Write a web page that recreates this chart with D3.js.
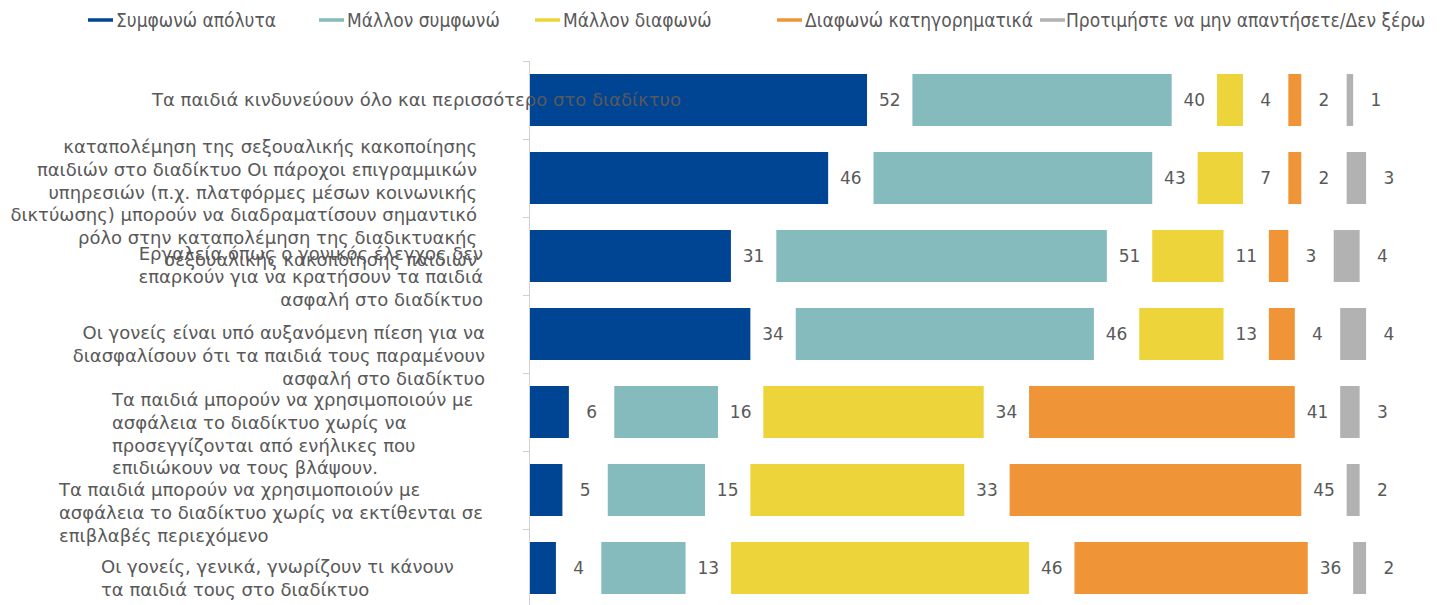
<!DOCTYPE html>
<html><head><meta charset="utf-8">
<script src="https://cdn.jsdelivr.net/npm/d3@7"></script>
<style>
html,body{margin:0;padding:0;background:#fff;}
svg{display:block;}
</style>
</head><body>
<svg id="chart" width="1443" height="605"></svg>
<script>
// ---- data ----
const categories = [
  "Τα παιδιά κινδυνεύουν όλο και περισσότερο στο διαδίκτυο",
  "καταπολέμηση της σεξουαλικής κακοποίησης\nπαιδιών στο διαδίκτυο Οι πάροχοι επιγραμμικών\nυπηρεσιών (π.χ. πλατφόρμες μέσων κοινωνικής\nδικτύωσης) μπορούν να διαδραματίσουν σημαντικό\nρόλο στην καταπολέμηση της διαδικτυακής\nσεξουαλικής κακοποίησης παιδιών",
  "Εργαλεία όπως ο γονικός έλεγχος δεν\nεπαρκούν για να κρατήσουν τα παιδιά\nασφαλή στο διαδίκτυο",
  "Οι γονείς είναι υπό αυξανόμενη πίεση για να\nδιασφαλίσουν ότι τα παιδιά τους παραμένουν\nασφαλή στο διαδίκτυο",
  "Τα παιδιά μπορούν να χρησιμοποιούν με\nασφάλεια το διαδίκτυο χωρίς να\nπροσεγγίζονται από ενήλικες που\nεπιδιώκουν να τους βλάψουν.",
  "Τα παιδιά μπορούν να χρησιμοποιούν με\nασφάλεια το διαδίκτυο χωρίς να εκτίθενται σε\nεπιβλαβές περιεχόμενο",
  "Οι γονείς, γενικά, γνωρίζουν τι κάνουν\nτα παιδιά τους στο διαδίκτυο"
];
const seriesNames = [
  "Συμφωνώ απόλυτα",
  "Μάλλον συμφωνώ",
  "Μάλλον διαφωνώ",
  "Διαφωνώ κατηγορηματικά",
  "Προτιμήστε να μην απαντήσετε/Δεν ξέρω"
];
const agreeFully      = [52, 46, 31, 34, 6, 5, 4];
const tendToAgree     = [40, 43, 51, 46, 16, 15, 13];
const tendToDisagree  = [4, 7, 11, 13, 34, 33, 46];
const disagreeFully   = [2, 2, 3, 4, 41, 45, 36];
const dontKnow        = [1, 3, 4, 4, 3, 2, 2];
const seriesValues = [agreeFully, tendToAgree, tendToDisagree, disagreeFully, dontKnow];

// ---- style / layout ----
const colors = ["#004494", "#85BBBC", "#EDD43A", "#F09537", "#B2B2B2"];
const textColor = "#595959";
const GAP = 7;            // spacer (in value units) after each segment, holding its label
const plot = {left: 530, right: 1405, top: 61, bottom: 607};
const labelLayout = [
  {anchor: "start", x: 152, y: 100},
  {anchor: "end",   x: 477, y: 147},
  {anchor: "end",   x: 483, y: 254},
  {anchor: "end",   x: 485, y: 333},
  {anchor: "start", x: 112, y: 400},
  {anchor: "start", x: 59,  y: 490},
  {anchor: "start", x: 101, y: 567}
];
const lineHeight = 22.6;
const legendX = [88, 319, 535, 777, 1040];
const legendTextOffset = [28, 28, 28, 28, 26];
const legendY = 20;

const svg = d3.select("#chart");

const rows = categories.map((c, i) => {
  let acc = 0;
  const segs = seriesValues.map((vals, s) => {
    const seg = {series: s, value: vals[i], x0: acc, x1: acc + vals[i]};
    acc = seg.x1 + GAP;
    return seg;
  });
  return {cat: c, i, segs};
});

const x = d3.scaleLinear().domain([0, 135]).range([plot.left, plot.right]);
const y = d3.scaleBand().domain(d3.range(categories.length))
  .range([plot.top, plot.bottom]).paddingInner(1/3).paddingOuter(1/6);

// axis (vertical category axis with boundary ticks)
const axisG = svg.append("g").attr("stroke", "#d0d0d0").attr("stroke-width", 1);
axisG.append("line")
  .attr("x1", plot.left - 0.5).attr("x2", plot.left - 0.5)
  .attr("y1", plot.top).attr("y2", plot.bottom);
const bounds = d3.range(categories.length + 1).map(k => plot.top + k * y.step());
axisG.selectAll("line.tick").data(bounds).join("line").attr("class", "tick")
  .attr("x1", plot.left - 7).attr("x2", plot.left - 0.5)
  .attr("y1", d => Math.round(d) + 0.5).attr("y2", d => Math.round(d) + 0.5);

// bars
const rowG = svg.selectAll("g.row").data(rows).join("g").attr("class", "row")
  .attr("transform", d => `translate(0,${y(d.i)})`);
rowG.selectAll("rect").data(d => d.segs).join("rect")
  .attr("x", d => x(d.x0))
  .attr("width", d => x(d.x1) - x(d.x0))
  .attr("y", 0).attr("height", y.bandwidth())
  .attr("fill", d => colors[d.series]);

// value labels centred in the gap following each segment
rowG.selectAll("text.val").data(d => d.segs).join("text").attr("class", "val")
  .attr("x", d => x(d.x1 + GAP / 2))
  .attr("y", y.bandwidth() / 2)
  .attr("dy", "0.36em")
  .attr("text-anchor", "middle")
  .attr("font-family", "'DejaVu Sans', Verdana, sans-serif")
  .attr("font-size", 17)
  .attr("fill", textColor)
  .text(d => d.value);

// category labels
const catG = svg.append("g").attr("font-family", "'DejaVu Sans', Verdana, sans-serif")
  .attr("font-size", 18).attr("fill", textColor);
categories.forEach((c, i) => {
  const L = labelLayout[i];
  const t = catG.append("text").attr("text-anchor", L.anchor);
  c.split("\n").forEach((line, k) => {
    t.append("tspan").attr("x", L.x).attr("y", L.y + k * lineHeight).attr("dy", "0.36em").text(line);
  });
});

// legend
const legG = svg.append("g");
seriesNames.forEach((n, s) => {
  const g = legG.append("g").attr("transform", `translate(${legendX[s]},${legendY})`);
  g.append("line").attr("x1", 0).attr("x2", 25).attr("y1", 0).attr("y2", 0)
    .attr("stroke", colors[s]).attr("stroke-width", 3.5);
  g.append("text").attr("x", legendTextOffset[s]).attr("dy", "0.36em")
    .attr("font-family", "'DejaVu Sans Condensed', 'Liberation Sans Narrow', 'Liberation Sans', sans-serif")
    .attr("font-size", 19).attr("fill", textColor).text(n);
});
</script>
</body></html>
